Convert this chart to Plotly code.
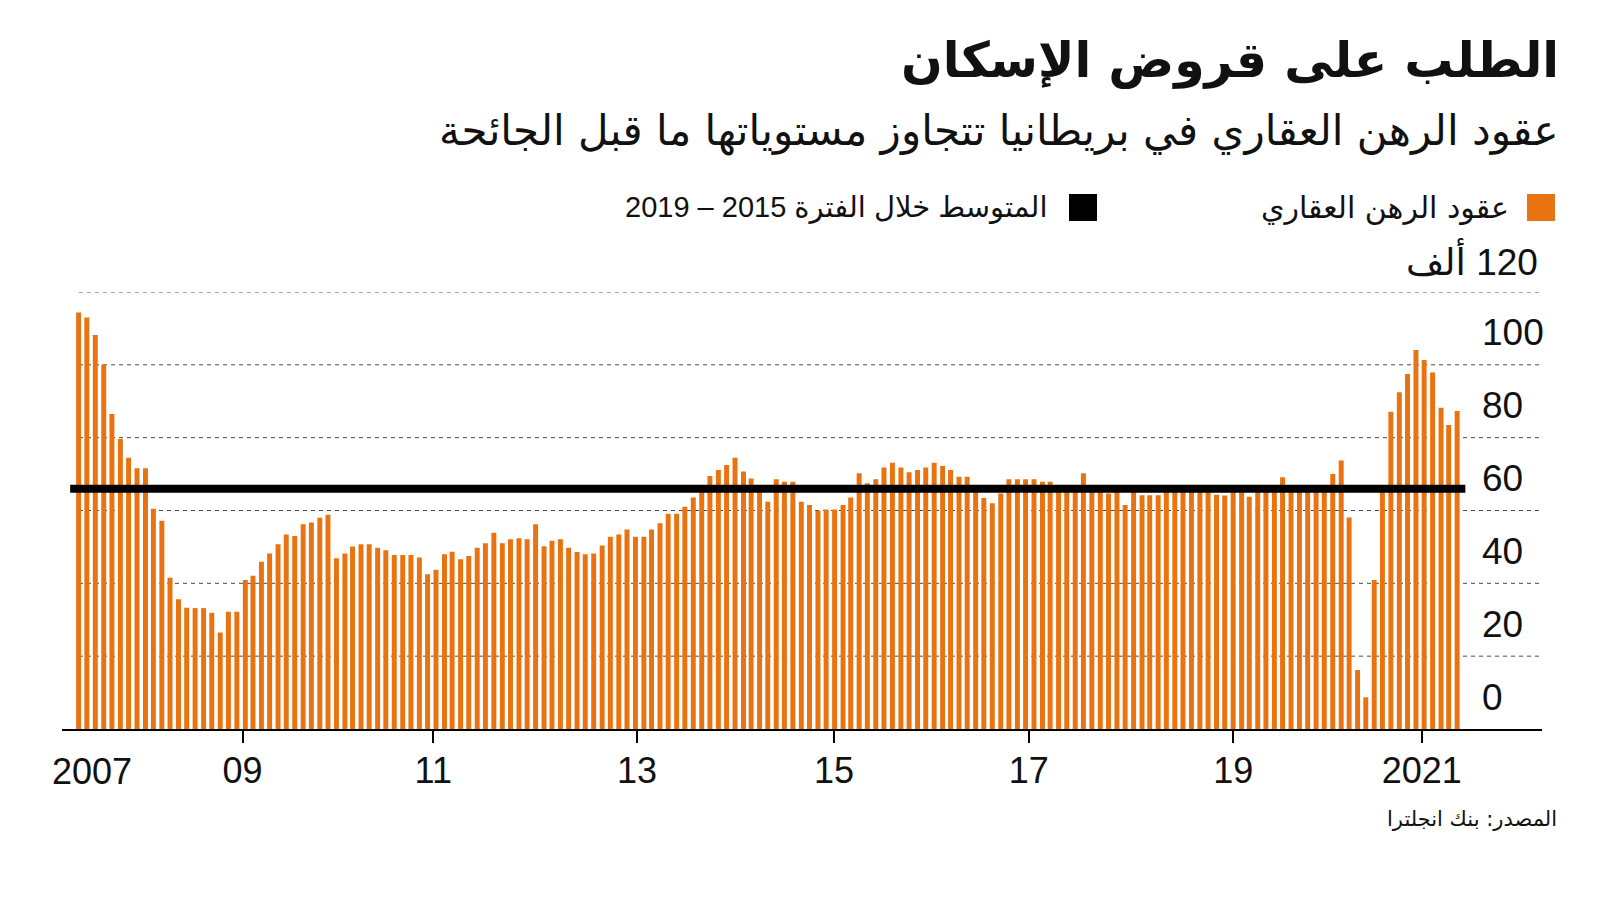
import pandas as pd
import plotly.graph_objects as go

# ---------------- data ----------------
start_month = "2007-06-01"
mortgage_approvals = [
    # 2007 Jun-Dec
    114.4, 113.0, 108.2, 100.1, 86.5, 79.6, 74.5,
    # 2008
    71.6, 71.6, 60.5, 57.2, 41.5, 35.6, 33.3, 33.2, 33.2, 31.9, 26.5, 32.2,
    # 2009
    32.2, 40.9, 42.1, 45.9, 48.2, 50.7, 53.4, 53.0, 56.2, 56.7, 58.0, 58.8,
    # 2010
    46.9, 48.2, 50.1, 50.7, 50.7, 49.8, 49.1, 47.8, 47.8, 47.8, 47.1, 42.5,
    # 2011
    43.7, 48.0, 48.7, 46.6, 47.5, 49.8, 51.0, 53.9, 51.0, 52.1, 52.4, 52.1,
    # 2012
    56.2, 50.2, 51.7, 52.1, 49.8, 48.6, 48.0, 48.2, 50.4, 52.8, 53.4, 54.8,
    # 2013
    52.8, 52.8, 54.8, 56.5, 59.1, 59.1, 61.0, 63.6, 65.4, 69.5, 71.1, 72.5,
    # 2014
    74.5, 70.7, 68.8, 66.0, 62.4, 68.6, 67.9, 67.9, 62.4, 61.5, 59.9, 60.3,
    # 2015
    60.3, 61.5, 63.6, 70.2, 67.5, 68.6, 71.8, 73.1, 71.8, 70.5, 71.1, 71.8,
    # 2016
    73.1, 72.2, 71.1, 69.3, 69.3, 65.1, 63.4, 62.0, 64.7, 68.6, 68.6, 68.6,
    # 2017
    68.6, 67.9, 67.9, 66.0, 65.8, 66.0, 70.2, 65.9, 66.1, 64.7, 65.6, 61.5,
    # 2018
    65.5, 64.2, 64.2, 64.2, 65.6, 65.8, 66.0, 66.2, 65.9, 65.7, 64.3, 64.1,
    # 2019
    65.6, 65.0, 63.8, 65.8, 65.6, 65.9, 69.1, 65.7, 65.9, 66.0, 65.8, 65.6,
    # 2020
    70.0, 73.7, 58.1, 16.2, 8.7, 40.9, 66.3, 87.1, 92.5, 97.5, 104.1, 101.3,
    # 2021 Jan-Apr
    97.9, 88.2, 83.5, 87.3,
]
months = pd.date_range(start_month, periods=len(mortgage_approvals), freq="MS")

avg_2015_2019 = 66.0
avg_line_x = ["2007-05-01", "2021-05-01"]

y_tick_values = [0, 20, 40, 60, 80, 100, 120]
y_tick_labels = ["0", "20", "40", "60", "80", "100", "\u200f120 ألف"]

# tick marks as placed in the original artwork
x_tick_values = ["2009-01-22", "2010-12-22", "2013-01-07", "2014-12-30",
                 "2016-12-13", "2019-01-01", "2020-11-22"]
x_tick_labels = ["09", "11", "13", "15", "17", "19", "2021"]
first_year_label = "2007"
first_year_pos = "2007-07-21"

title_text = "الطلب على قروض الإسكان"
subtitle_text = "عقود الرهن العقاري في بريطانيا تتجاوز مستوياتها ما قبل الجائحة"
legend_bars_text = "عقود الرهن العقاري"
legend_avg_text = "المتوسط خلال الفترة 2015 – 2019"
source_text = "المصدر: بنك انجلترا"

# ---------------- styling / geometry (page pixel coords) ----------------
ORANGE = "#EA7311"
PAGE_W, PAGE_H = 1600, 900
OFF = 8               # default body margin of the html page
L, RE = 62, 1542      # plot area left / right edge (px)
T, BE = 292, 729      # plot area top / bottom edge (px)
AR_FONT = "DejaVu Sans"
NUM_FONT = "Liberation Sans, DejaVu Sans"


def px(x):
    return (x - L) / (RE - L)


def py(y):
    return (BE - y) / (BE - T)


fig = go.Figure()

fig.add_trace(go.Bar(
    x=months, y=mortgage_approvals,
    marker=dict(color=ORANGE, line=dict(width=0)),
    hoverinfo="x+y", showlegend=False,
))

fig.add_trace(go.Scatter(
    x=avg_line_x, y=[avg_2015_2019] * len(avg_line_x),
    mode="lines", line=dict(color="black", width=8),
    hoverinfo="skip", showlegend=False,
))

shapes = []
for v in y_tick_values[1:]:
    shapes.append(dict(
        type="line", xref="paper", yref="y",
        x0=px(79), x1=1, y0=v, y1=v,
        line=dict(color="#4a4a4a", width=1, dash="4px,4px"),
        layer="below",
    ))

# legend squares
shapes.append(dict(type="rect", xref="paper", yref="paper",
                   x0=px(1527), x1=px(1555), y0=py(221), y1=py(194),
                   fillcolor=ORANGE, line=dict(width=0)))
shapes.append(dict(type="rect", xref="paper", yref="paper",
                   x0=px(1069), x1=px(1097), y0=py(221), y1=py(194),
                   fillcolor="black", line=dict(width=0)))

annotations = []
# y labels above gridlines
for v, lab in zip(y_tick_values, y_tick_labels):
    top = v == y_tick_values[-1]
    annotations.append(dict(
        text=lab, xref="paper", yref="y",
        x=px(1540) if top else px(1480), y=v,
        xanchor="right" if top else "left", yanchor="middle",
        yshift=32, showarrow=False,
        font=dict(family=NUM_FONT, size=37, color="#111"),
    ))

annotations.append(dict(
    text=first_year_label, xref="x", yref="paper",
    x=first_year_pos, y=py(771), xanchor="center", yanchor="middle",
    showarrow=False, font=dict(family=NUM_FONT, size=36, color="#111"),
))

annotations += [
    dict(text=title_text, xref="paper", yref="paper", x=px(1561), y=py(61),
         xanchor="right", yanchor="middle", showarrow=False,
         font=dict(family=AR_FONT, size=49, color="#111", weight=700)),
    dict(text=subtitle_text, xref="paper", yref="paper", x=px(1561), y=py(131),
         xanchor="right", yanchor="middle", showarrow=False,
         font=dict(family=AR_FONT, size=42, color="#111")),
    dict(text=legend_bars_text, xref="paper", yref="paper", x=px(1511), y=py(207),
         xanchor="right", yanchor="middle", showarrow=False,
         font=dict(family=AR_FONT, size=30, color="#111")),
    dict(text=legend_avg_text, xref="paper", yref="paper", x=px(1049), y=py(207),
         xanchor="right", yanchor="middle", showarrow=False,
         font=dict(family=NUM_FONT, size=29, color="#111")),
    dict(text=source_text, xref="paper", yref="paper", x=px(1559), y=py(819),
         xanchor="right", yanchor="middle", showarrow=False,
         font=dict(family=AR_FONT, size=21, color="#111")),
]

fig.update_layout(
    width=PAGE_W - OFF, height=PAGE_H - OFF,
    margin=dict(l=L - OFF, r=PAGE_W - RE, t=T - OFF, b=PAGE_H - BE, pad=0),
    paper_bgcolor="white", plot_bgcolor="white",
    bargap=0.35,
    shapes=shapes, annotations=annotations,
    showlegend=False,
    xaxis=dict(
        type="date", range=["2007-04-01", "2022-02-06"],
        tickvals=x_tick_values, ticktext=x_tick_labels,
        ticks="outside", ticklen=12, tickwidth=1.5, tickcolor="black",
        showline=True, linecolor="black", linewidth=1.5,
        showgrid=False, zeroline=False, ticklabelstandoff=-3,
        tickfont=dict(family=NUM_FONT, size=36, color="#111"),
    ),
    yaxis=dict(
        range=[0, 120], showgrid=False, zeroline=False,
        showticklabels=False, ticks="", showline=False, fixedrange=True,
    ),
)

fig.write_html("out.html")
